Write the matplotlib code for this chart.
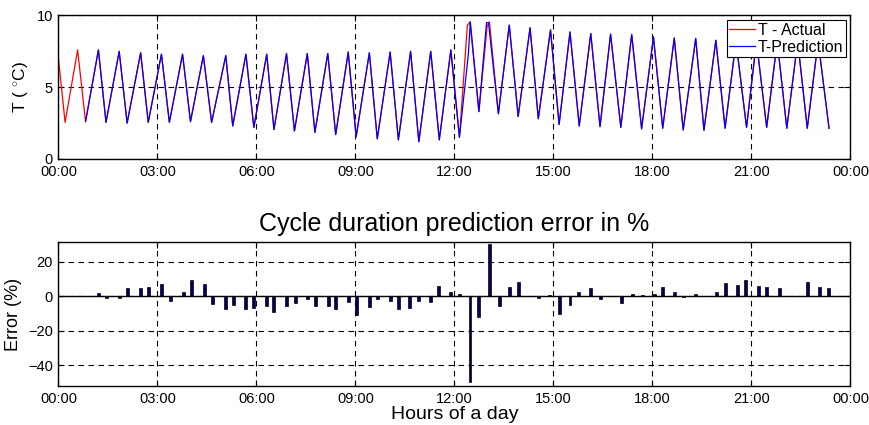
import numpy as np
import matplotlib.pyplot as plt

plt.rcParams["font.family"] = ["Liberation Sans", "DejaVu Sans"]
plt.rcParams["mathtext.fontset"] = "custom"
plt.rcParams["mathtext.rm"] = "Liberation Sans"

# temperature: turning points of the curve (hour of day, deg C)
actual_t = [0.0, 0.2, 0.58, 0.82, 1.21, 1.44, 1.84, 2.08, 2.49, 2.72, 3.12, 3.36,
            3.76, 4.0, 4.39, 4.64, 5.07, 5.28, 5.68, 5.92, 6.31, 6.53, 6.91, 7.15,
            7.54, 7.77, 8.16, 8.40, 8.78, 9.02, 9.42, 9.66, 10.05, 10.30, 10.67, 10.92,
            11.28, 11.54, 11.89, 12.15, 12.39, 12.47, 12.74, 12.99, 13.06, 13.33, 13.66, 13.93,
            14.29, 14.54, 14.91, 15.17, 15.5, 15.78, 16.13, 16.41, 16.73, 17.04,
            17.37, 17.67, 18.03, 18.31, 18.66, 18.93, 19.31, 19.56, 19.92, 20.2,
            20.53, 20.85, 21.15, 21.46, 21.78, 22.07, 22.4, 22.69, 23.02, 23.35]
actual_v = [7.0, 2.55, 7.6, 2.6, 7.6, 2.55, 7.5, 2.5, 7.4, 2.55, 7.3, 2.55,
            7.3, 2.6, 7.2, 2.55, 7.2, 2.3, 7.3, 2.2, 7.3, 2.05, 7.35, 1.95,
            7.35, 1.85, 7.35, 1.7, 7.45, 1.55, 7.4, 1.4, 7.45, 1.33, 7.5, 1.2,
            7.5, 1.33, 7.6, 1.5, 9.3, 9.55, 3.3, 9.25, 9.55, 3.15, 9.33, 2.96,
            9.14, 2.8, 9.0, 2.4, 8.85, 2.3, 8.74, 2.25, 8.7, 2.2,
            8.67, 2.1, 8.5, 2.14, 8.43, 2.02, 8.4, 2.0, 8.27, 2.14,
            8.2, 2.2, 8.2, 2.2, 8.2, 2.14, 8.2, 2.14, 8.2, 2.14]

pred_t = [0.82, 1.21, 1.44, 1.84, 2.08, 2.49, 2.72, 3.12, 3.36,
          3.76, 4.0, 4.39, 4.64, 5.07, 5.28, 5.68, 5.92, 6.31, 6.53, 6.91, 7.15,
          7.54, 7.77, 8.16, 8.40, 8.78, 9.02, 9.42, 9.66, 10.05, 10.30, 10.67, 10.92,
          11.28, 11.54, 11.89, 12.15, 12.42, 12.48, 12.74, 12.97, 13.03, 13.33, 13.66, 13.93,
          14.29, 14.54, 14.91, 15.17, 15.5, 15.78, 16.13, 16.41, 16.73, 17.04,
          17.37, 17.67, 18.03, 18.31, 18.66, 18.93, 19.31, 19.56, 19.92, 20.2,
          20.53, 20.85, 21.15, 21.46, 21.78, 22.07, 22.4, 22.69, 23.02, 23.35]
pred_v = [2.6, 7.6, 2.55, 7.5, 2.5, 7.4, 2.55, 7.3, 2.55,
          7.3, 2.6, 7.2, 2.55, 7.2, 2.3, 7.3, 2.2, 7.3, 2.05, 7.35, 1.95,
          7.35, 1.85, 7.35, 1.7, 7.45, 1.55, 7.4, 1.4, 7.45, 1.33, 7.5, 1.2,
          7.5, 1.33, 7.6, 1.5, 7.3, 9.55, 3.3, 9.5, 9.5, 3.15, 9.33, 2.96,
          9.14, 2.8, 9.0, 2.4, 8.85, 2.3, 8.74, 2.25, 8.7, 2.2,
          8.67, 2.1, 8.5, 2.14, 8.43, 2.02, 8.4, 2.0, 8.27, 2.14,
          8.2, 2.2, 8.2, 2.2, 8.2, 2.14, 8.2, 2.14, 8.2, 2.14]

# cycle duration error (hour of day, %)
err_t = [1.22, 1.46, 1.86, 2.08, 2.5, 2.72, 3.13, 3.38, 3.78, 4.02, 4.42, 4.66,
         5.07, 5.29, 5.67, 5.9, 6.31, 6.53, 6.92, 7.17, 7.54, 7.79, 8.18, 8.4,
         8.78, 9.02, 9.41, 9.66, 10.05, 10.3, 10.65, 10.92, 11.26, 11.53, 11.88, 12.15,
         12.47, 12.74, 13.05, 13.35, 13.66, 13.94, 14.56, 14.89, 15.17, 15.5, 15.77, 16.13,
         16.41, 17.05, 17.4, 17.7, 18.06, 18.31, 18.66, 18.93, 19.31, 19.94, 20.2, 20.58,
         20.83, 21.2, 21.46, 21.84, 22.08, 22.47, 22.7, 23.07, 23.32]
err_v = [2.0, -1.0, -1.3, 4.8, 4.4, 5.4, 6.8, -2.9, 2.1, 9.3, 6.8, -4.6,
         -7.5, -5.0, -7.7, -7.1, -5.8, -9.3, -5.8, -3.9, -1.9, -5.8, -5.6, -7.5,
         -3.3, -11.0, -6.2, -1.9, -2.9, -7.5, -6.6, -2.9, -3.3, 6.0, 2.5, 1.5,
         -49.7, -12.0, 30.0, -5.6, 5.0, 7.9, -1.0, 0.6, -10.2, -5.2, 2.5, 4.4,
         -1.4, -3.9, 1.0, 0.6, 1.2, 5.4, 2.5, -0.8, 1.0, 2.5, 7.7, 6.4,
         9.3, 5.8, 5.4, 4.4, 0.3, 0.3, 8.0, 5.0, 4.4]

hour_ticks = np.arange(0, 25, 3)
hour_labels = ["00:00", "03:00", "06:00", "09:00", "12:00", "15:00", "18:00", "21:00", "00:00"]

fig = plt.figure(figsize=(8.69, 4.25), dpi=100)
ax1 = fig.add_axes([0.0673, 0.626, 0.9114, 0.3376])
ax2 = fig.add_axes([0.0673, 0.0918, 0.9114, 0.3388])

grid_kw = dict(color="black", linestyle=(0, (5, 4)), linewidth=0.8)

# top: temperatures
ax1.plot(actual_t, actual_v, color="red", lw=0.9, label="T - Actual")
ax1.plot(pred_t, pred_v, color="blue", lw=0.9, label="T-Prediction")
ax1.set_xlim(0, 24)
ax1.set_ylim(0, 10)
ax1.set_yticks([0, 5, 10])
ax1.set_ylabel("T ( $^{\\circ}$C)", fontsize=12.5)
leg = ax1.legend(loc="upper right", fontsize=11.5, fancybox=False, framealpha=1,
                 edgecolor="black", handlelength=1.6, handletextpad=0.2,
                 borderpad=0.15, labelspacing=0.15, borderaxespad=0.3)
leg.get_frame().set_linewidth(0.8)

# bottom: prediction error
ax2.bar(err_t, err_v, width=0.09, color="#000060", edgecolor="black", linewidth=0.5, zorder=3)
ax2.axhline(0, color="black", lw=1, zorder=4)
ax2.set_xlim(0, 24)
ax2.set_ylim(-52, 31.3)
ax2.set_yticks([-40, -20, 0, 20])
ax2.set_ylabel("Error (%)", fontsize=13)
ax2.set_xlabel("Hours of a day", fontsize=14, labelpad=0)
ax2.set_title("Cycle duration prediction error in %", fontsize=18, pad=8)

for ax in (ax1, ax2):
    ax.set_xticks(hour_ticks)
    ax.set_xticklabels(hour_labels)
    ax.tick_params(direction="in", length=4, labelsize=10.5, top=True, right=True, pad=4)
    ax.grid(True, **grid_kw)
    ax.set_axisbelow(True)
    for s in ax.spines.values():
        s.set_linewidth(1)

fig.savefig("out.png", dpi=100)
